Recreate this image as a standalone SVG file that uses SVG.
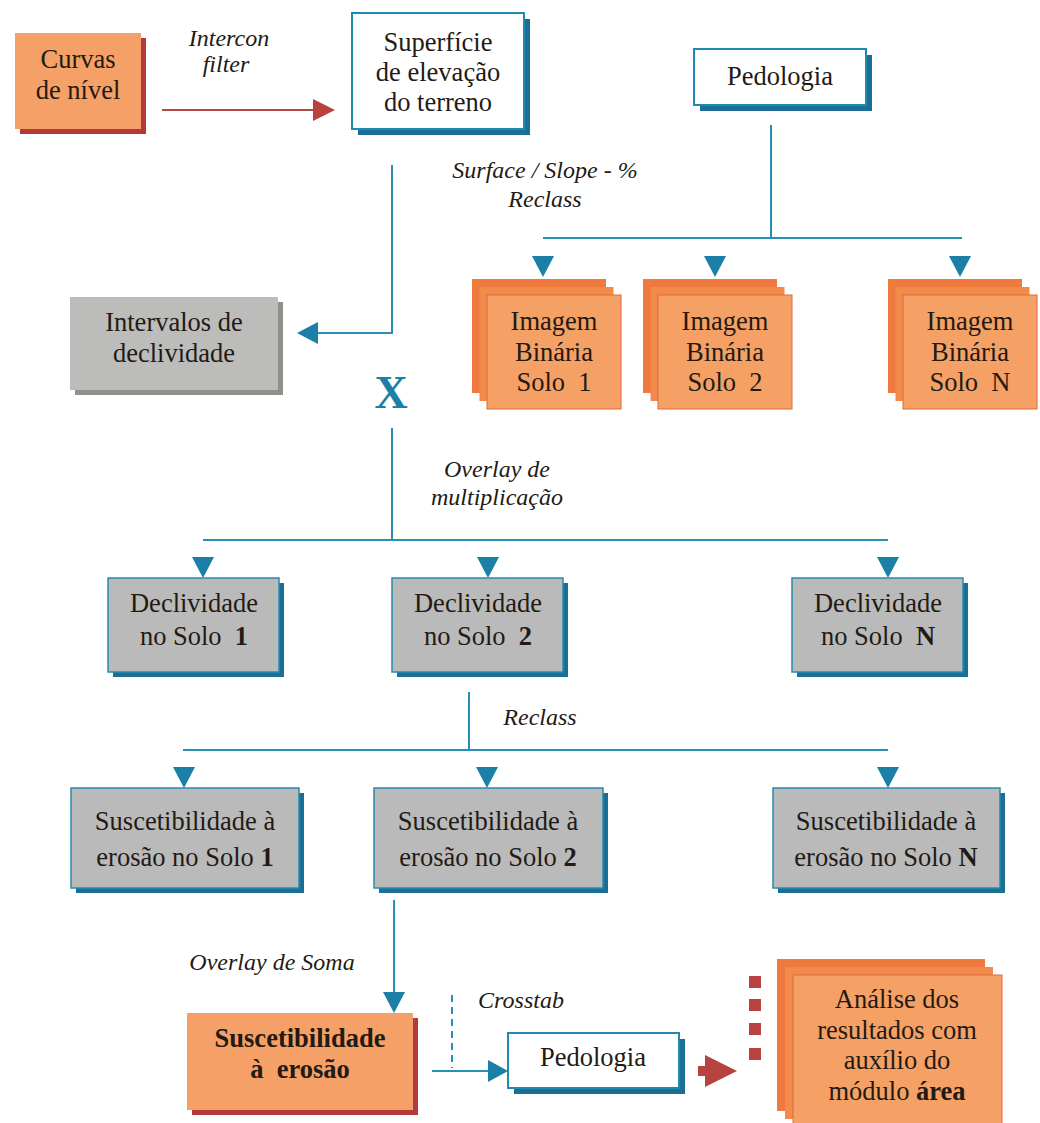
<svg xmlns="http://www.w3.org/2000/svg" xmlns:xlink="http://www.w3.org/1999/xlink" width="1040" height="1123" viewBox="0 0 1040 1123">
  <style>
    text { font-family: "Times New Roman", "Liberation Serif", Tinos, "DejaVu Serif", serif; fill: #231a14; text-anchor: middle; }
    .t { font-size: 26.5px; }
    .lbl { font-size: 24px; font-style: italic; }
    .b { font-weight: bold; }
    .orange { fill: #f4a066; }
    .redShadow { fill: #b5393a; }
    .blueShadow { fill: #1b6f95; }
    .white { fill: #ffffff; stroke: #2089b2; stroke-width: 2; }
    .gray { fill: #bababa; stroke: #2a8ab0; stroke-width: 1.5; }
    .grayShadow { fill: #8f8f8c; }
    .back { fill: #ee7a3e; }
    .mid { fill: #f28a4c; }
    .front { fill: #f5a064; stroke: #e0683e; stroke-width: 1; }
    .wire { fill: none; stroke: #2a8db5; stroke-width: 2; }
    .head { fill: #1b7fa7; }
    .red { fill: #b8423f; }
  </style>
  <defs>
    <polygon id="down" points="-11,0 11,0 0,21"/>
  </defs>

  <!-- connectors -->
  <g id="connectors">
    <line x1="162" y1="110" x2="316" y2="110" stroke="#b34a45" stroke-width="2"/>
    <polygon class="red" points="313,99 335,110 313,121"/>

    <polyline class="wire" points="392,165 392,333 316,333"/>
    <polygon class="head" points="297,333 318,322 318,344"/>

    <line class="wire" x1="771" y1="125" x2="771" y2="238"/>
    <line class="wire" x1="543" y1="238" x2="962" y2="238"/>
    <use href="#down" class="head" x="543" y="256"/>
    <use href="#down" class="head" x="715" y="256"/>
    <use href="#down" class="head" x="960" y="256"/>

    <line class="wire" x1="392" y1="428" x2="392" y2="540"/>
    <line class="wire" x1="203" y1="540" x2="888" y2="540"/>
    <use href="#down" class="head" x="203" y="557"/>
    <use href="#down" class="head" x="488" y="557"/>
    <use href="#down" class="head" x="888" y="557"/>

    <line class="wire" x1="469" y1="692" x2="469" y2="750"/>
    <line class="wire" x1="183" y1="750" x2="888" y2="750"/>
    <use href="#down" class="head" x="184" y="767"/>
    <use href="#down" class="head" x="487" y="767"/>
    <use href="#down" class="head" x="888" y="767"/>

    <line class="wire" x1="394" y1="900" x2="394" y2="993"/>
    <use href="#down" class="head" x="394" y="992"/>

    <line class="wire" x1="452" y1="995" x2="452" y2="1068" stroke-dasharray="7 5"/>
    <line class="wire" x1="432" y1="1071" x2="490" y2="1071"/>
    <polygon class="head" points="488,1060 508,1071 488,1082"/>

    <polygon class="red" points="698,1066 705,1066 705,1055 737,1071 705,1087 705,1076 698,1076"/>
    <rect class="red" x="749" y="976" width="12" height="12"/>
    <rect class="red" x="749" y="999" width="12" height="12"/>
    <rect class="red" x="749" y="1023" width="12" height="12"/>
    <rect class="red" x="749" y="1048" width="12" height="12"/>
  </g>

  <!-- operation labels -->
  <g id="labels">
    <text class="lbl" x="229" y="46">Intercon</text>
    <text class="lbl" x="226" y="72">filter</text>
    <text class="lbl" x="545" y="178">Surface / Slope - %</text>
    <text class="lbl" x="545" y="207">Reclass</text>
    <text x="391" y="408" font-size="46" font-weight="bold" style="fill:#1b7fa7">X</text>
    <text class="lbl" x="497" y="477">Overlay de</text>
    <text class="lbl" x="497" y="505">multiplicação</text>
    <text class="lbl" x="540" y="725">Reclass</text>
    <text class="lbl" x="272" y="970">Overlay de Soma</text>
    <text class="lbl" x="521" y="1008">Crosstab</text>
  </g>

  <g id="curvas">
    <rect class="redShadow" x="20" y="38" width="126" height="96"/>
    <rect class="orange" x="15" y="33" width="126" height="96"/>
    <text class="t" x="78" y="68" font-size="24">Curvas</text>
    <text class="t" x="78" y="99" font-size="24">de nível</text>
  </g>

  <g id="superficie">
    <rect class="blueShadow" x="358" y="19" width="172" height="116"/>
    <rect class="white" x="352" y="13" width="172" height="116"/>
    <text class="t" x="438" y="51">Superfície</text>
    <text class="t" x="438" y="81">de elevação</text>
    <text class="t" x="438" y="111">do terreno</text>
  </g>

  <g id="pedologia-top">
    <rect class="blueShadow" x="700" y="55" width="172" height="56"/>
    <rect class="white" x="694" y="49" width="172" height="56"/>
    <text class="t" x="780" y="85">Pedologia</text>
  </g>

  <g id="intervalos">
    <rect class="grayShadow" x="75" y="302" width="208" height="93"/>
    <rect x="70" y="297" width="208" height="93" fill="#bcbcba"/>
    <text class="t" x="174" y="331">Intervalos de</text>
    <text class="t" x="174" y="362">declividade</text>
  </g>

  <g id="binaria-1">
    <rect class="back" x="472" y="279" width="134" height="114"/>
    <rect class="mid" x="479.5" y="287" width="134" height="114"/>
    <rect class="front" x="487" y="295" width="134" height="114"/>
    <text class="t" x="554" y="330">Imagem</text>
    <text class="t" x="554" y="361">Binária</text>
    <text class="t" x="554" y="391" xml:space="preserve">Solo  1</text>
  </g>

  <g id="binaria-2">
    <rect class="back" x="643" y="279" width="134" height="114"/>
    <rect class="mid" x="650.5" y="287" width="134" height="114"/>
    <rect class="front" x="658" y="295" width="134" height="114"/>
    <text class="t" x="725" y="330">Imagem</text>
    <text class="t" x="725" y="361">Binária</text>
    <text class="t" x="725" y="391" xml:space="preserve">Solo  2</text>
  </g>

  <g id="binaria-n">
    <rect class="back" x="888" y="279" width="134" height="114"/>
    <rect class="mid" x="895.5" y="287" width="134" height="114"/>
    <rect class="front" x="903" y="295" width="134" height="114"/>
    <text class="t" x="970" y="330">Imagem</text>
    <text class="t" x="970" y="361">Binária</text>
    <text class="t" x="970" y="391" xml:space="preserve">Solo  N</text>
  </g>

  <g id="declividade-1">
    <rect class="blueShadow" x="113" y="583" width="171" height="94"/>
    <rect class="gray" x="108" y="578" width="171" height="94"/>
    <text class="t" x="194" y="612">Declividade</text>
    <text class="t" x="194" y="645" xml:space="preserve">no Solo  <tspan class="b">1</tspan></text>
  </g>

  <g id="declividade-2">
    <rect class="blueShadow" x="397" y="583" width="171" height="94"/>
    <rect class="gray" x="392" y="578" width="171" height="94"/>
    <text class="t" x="478" y="612">Declividade</text>
    <text class="t" x="478" y="645" xml:space="preserve">no Solo  <tspan class="b">2</tspan></text>
  </g>

  <g id="declividade-n">
    <rect class="blueShadow" x="797" y="583" width="171" height="94"/>
    <rect class="gray" x="792" y="578" width="171" height="94"/>
    <text class="t" x="878" y="612">Declividade</text>
    <text class="t" x="878" y="645" xml:space="preserve">no Solo  <tspan class="b">N</tspan></text>
  </g>

  <g id="suscetibilidade-1">
    <rect class="blueShadow" x="76" y="793" width="228" height="100"/>
    <rect class="gray" x="71" y="788" width="228" height="100"/>
    <text class="t" x="185" y="830">Suscetibilidade à</text>
    <text class="t" x="185" y="866">erosão no Solo <tspan class="b">1</tspan></text>
  </g>

  <g id="suscetibilidade-2">
    <rect class="blueShadow" x="379" y="793" width="229" height="100"/>
    <rect class="gray" x="374" y="788" width="229" height="100"/>
    <text class="t" x="488" y="830">Suscetibilidade à</text>
    <text class="t" x="488" y="866">erosão no Solo <tspan class="b">2</tspan></text>
  </g>

  <g id="suscetibilidade-n">
    <rect class="blueShadow" x="778" y="793" width="227" height="100"/>
    <rect class="gray" x="773" y="788" width="227" height="100"/>
    <text class="t" x="886" y="830">Suscetibilidade à</text>
    <text class="t" x="886" y="866">erosão no Solo <tspan class="b">N</tspan></text>
  </g>

  <g id="suscetibilidade-erosao">
    <rect class="redShadow" x="192" y="1018" width="226" height="97"/>
    <rect class="orange" x="187" y="1013" width="226" height="97"/>
    <text class="t b" x="300" y="1047">Suscetibilidade</text>
    <text class="t b" x="300" y="1078" xml:space="preserve">à  erosão</text>
  </g>

  <g id="pedologia-bottom">
    <rect class="blueShadow" x="514" y="1039" width="171" height="55"/>
    <rect class="white" x="508" y="1033" width="171" height="55"/>
    <text class="t" x="593" y="1066">Pedologia</text>
  </g>

  <g id="analise">
    <rect class="back" x="777" y="959" width="208" height="152"/>
    <rect class="mid" x="785" y="967" width="208" height="152"/>
    <rect class="front" x="793" y="975" width="209" height="152"/>
    <text class="t" x="897" y="1008">Análise dos</text>
    <text class="t" x="897" y="1039">resultados com</text>
    <text class="t" x="897" y="1069">auxílio do</text>
    <text class="t" x="897" y="1100">módulo <tspan class="b">área</tspan></text>
  </g>
</svg>
